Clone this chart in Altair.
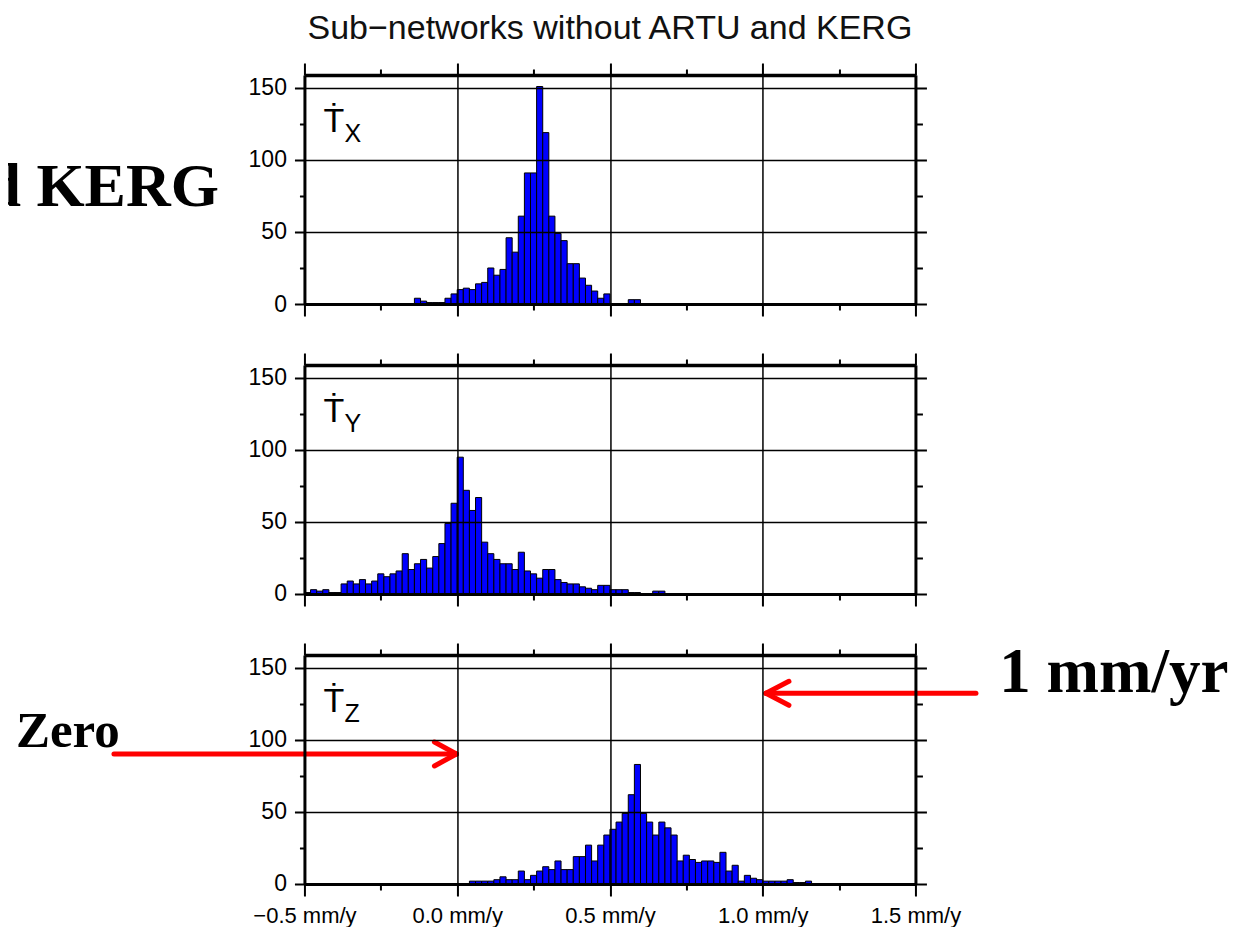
import altair as alt
import pandas as pd

# ---------------- data ----------------
BIN_START = -0.5
BIN_WIDTH = 0.02

counts_x = [
    0, 0, 0, 0, 0, 0, 0, 0, 0, 0,
    0, 0, 0, 0, 0, 0, 0, 0, 4, 2,
    1, 1, 1, 4, 7, 10, 11, 10, 14, 15,
    25, 20, 24, 46, 36, 61, 91, 91, 151, 119,
    61, 49, 44, 28, 28, 18, 13, 9, 4, 7,
    0, 0, 0, 3, 3, 0, 0, 0, 0, 0,
    0, 0, 0, 0, 0, 0, 0, 0, 0, 0,
    0, 0, 0, 0, 0, 0, 0, 0, 0, 0,
    0, 0, 0, 0, 0, 0, 0, 0, 0, 0,
    0, 0, 0, 0, 0, 0, 0, 0, 0, 0,
]
counts_y = [
    1, 3, 2, 3, 1, 1, 7, 9, 7, 10,
    7, 9, 14, 12, 14, 16, 28, 17, 21, 24,
    18, 26, 35, 49, 63, 95, 72, 58, 67, 36,
    28, 24, 21, 21, 17, 29, 16, 14, 11, 17,
    17, 10, 8, 7, 7, 5, 4, 3, 6, 6,
    3, 3, 3, 1, 1, 0, 0, 2, 2, 0,
    0, 0, 0, 0, 0, 0, 0, 0, 0, 0,
    0, 0, 0, 0, 0, 0, 0, 0, 0, 0,
    0, 0, 0, 0, 0, 0, 0, 0, 0, 0,
    0, 0, 0, 0, 0, 0, 0, 0, 0, 0,
]
counts_z = [
    0, 0, 0, 0, 0, 0, 0, 0, 0, 0,
    0, 0, 0, 0, 0, 0, 0, 0, 0, 0,
    0, 0, 0, 0, 0, 0, 0, 2, 2, 2,
    2, 3, 5, 3, 3, 9, 3, 6, 9, 12,
    10, 16, 10, 10, 19, 19, 27, 16, 27, 34,
    38, 43, 49, 62, 83, 49, 43, 34, 43, 39,
    34, 16, 20, 17, 15, 16, 16, 15, 22, 9,
    13, 2, 6, 4, 3, 2, 2, 2, 2, 3,
    1, 1, 2, 0, 0, 0, 0, 0, 0, 0,
    0, 0, 0, 0, 0, 0, 0, 0, 0, 0,
]

component_names = ["X", "Y", "Z"]
component_symbol = "\u1e6a"  # T with dot above
title_text = "Sub\u2212networks without ARTU and KERG"
left_note = "d KERG"
zero_note = "Zero"
unit_note = "1 mm/yr"

x_domain = [-0.5, 1.5]
y_domain = [0, 159]
x_major = [-0.5, 0.0, 0.5, 1.0, 1.5]
x_minor = [-0.25, 0.25, 0.75, 1.25]
y_major = [0, 50, 100, 150]
y_minor = [25, 75, 125]

# ---------------- layout ----------------
W, H = 611, 229
SPACING = 61
SANS = "Liberation Sans"
SERIF = "Liberation Serif"
NOTE_SIZE_LEFT = 62
NOTE_RIGHT_EDGE = -85.5  # right edge of "d KERG", relative to the plot's left side
TITLE_SIZE = 34
TITLE_BASE = -36
RED = "#ff0000"


def hist_frame(counts):
    rows = []
    for k, c in enumerate(counts):
        if c > 0:
            x0 = round(BIN_START + k * BIN_WIDTH, 4)
            rows.append({"x0": x0, "x1": round(x0 + BIN_WIDTH, 4), "count": c})
    return pd.DataFrame(rows)


def x_axis(orient, values, major, labels=False):
    kw = dict(
        orient=orient, values=values, title=None,
        grid=bool(major and orient == "bottom"),
        gridColor="black", gridWidth=1.5, gridOpacity=1,
        tickSize=12 if major else 6, tickWidth=2, tickColor="black",
        domain=major, domainColor="black",
        domainWidth=3.5 if orient == "top" else 3,
        labels=labels, zindex=1,
    )
    if labels:
        kw.update(
            labelExpr="format(datum.value, '.1f') + ' mm/y'",
            labelFont=SANS, labelFontSize=22, labelColor="black",
            labelPadding=10, labelFlush=False, labelOverlap=False, labelBound=False,
        )
    return alt.Axis(**kw)


def y_axis(orient, values, major, labels=False):
    kw = dict(
        orient=orient, values=values, title=None,
        grid=bool(major and orient == "left"),
        gridColor="black", gridWidth=1.5, gridOpacity=1,
        tickSize=(10 if orient == "left" else 11) if major else (5 if orient == "left" else 7),
        tickWidth=2, tickColor="black",
        domain=major, domainColor="black", domainWidth=3,
        labels=labels, zindex=1,
    )
    if labels:
        kw.update(labelFont=SANS, labelFontSize=23, labelColor="black",
                  labelPadding=8, labelOverlap=False)
    return alt.Axis(**kw)


def text_layer(txt, x, y, font, size, weight="normal", align="left", color="black"):
    return alt.Chart(pd.DataFrame({"t": [txt]})).mark_text(
        align=align, baseline="alphabetic", font=font, fontSize=size,
        fontWeight=weight, color=color,
    ).encode(x=alt.value(x), y=alt.value(y), text="t:N")


def seg(x1, y1, x2, y2):
    return alt.Chart(pd.DataFrame({"a": [0]})).mark_rule(
        color=RED, strokeWidth=5, strokeCap="round"
    ).encode(x=alt.value(x1), y=alt.value(y1), x2=alt.value(x2), y2=alt.value(y2))


def arrow(x_from, x_tip, y, wing_dx, wing_dy):
    # wing_dx points back from the tip toward the tail
    return [
        seg(x_from, y, x_tip, y),
        seg(x_tip, y, x_tip + wing_dx, y - wing_dy),
        seg(x_tip, y, x_tip + wing_dx, y + wing_dy),
    ]


def panel(counts, comp, bottom, extras):
    df = hist_frame(counts)
    xs = alt.Scale(domain=x_domain, nice=False, zero=False, padding=0)
    ys = alt.Scale(domain=y_domain, nice=False, zero=False, padding=0)

    bars = alt.Chart(df).mark_rect(
        color="#0000ff", stroke="black", strokeWidth=1, opacity=1
    ).encode(
        x=alt.X("x0:Q", scale=xs, axis=x_axis("bottom", x_major, True, labels=bottom)),
        x2="x1:Q",
        y=alt.Y("count:Q", scale=ys, axis=y_axis("left", y_major, True, labels=True)),
        y2=alt.datum(0),
    )
    ghost = alt.Chart(df).mark_point(opacity=0, size=1)
    g1 = ghost.encode(
        x=alt.X("x0:Q", scale=xs, axis=x_axis("bottom", x_minor, False)),
        y=alt.Y("count:Q", scale=ys, axis=y_axis("left", y_minor, False)),
    )
    g2 = ghost.encode(
        x=alt.X("x0:Q", scale=xs, axis=x_axis("top", x_major, True)),
        y=alt.Y("count:Q", scale=ys, axis=y_axis("right", y_major, True)),
    )
    g3 = ghost.encode(
        x=alt.X("x0:Q", scale=xs, axis=x_axis("top", x_minor, False)),
        y=alt.Y("count:Q", scale=ys, axis=y_axis("right", y_minor, False)),
    )
    sym = text_layer(component_symbol, 19, 57, SANS, 34)
    sub = text_layer(comp, 40, 67, SANS, 25)
    layers = [bars, g1, g2, g3, sym, sub] + extras
    return alt.layer(*layers).resolve_axis(x="independent", y="independent").properties(width=W, height=H)


extras_top = [
    text_layer(title_text, W / 2, TITLE_BASE, SANS, TITLE_SIZE, align="center", color="#111111"),
    text_layer(left_note, NOTE_RIGHT_EDGE, 131, SERIF, NOTE_SIZE_LEFT, weight="bold", align="right"),
]
extras_bottom = [
    text_layer(zero_note, -288.5, 91.7, SERIF, 51, weight="bold"),
    text_layer(unit_note, 694.8, 36.7, SERIF, 63, weight="bold"),
] + arrow(-190.5, 152, 99, -22, 12) + arrow(671.5, 461.5, 38.3, 23, 12)

p1 = panel(counts_x, component_names[0], False, extras_top)
p2 = panel(counts_y, component_names[1], False, [])
p3 = panel(counts_z, component_names[2], True, extras_bottom)

# leftmost content is the cropped "d KERG"; topmost is the title
note_width = 3.751 * NOTE_SIZE_LEFT
pad_left = 303.5 - 8 - (note_width - NOTE_RIGHT_EDGE)
pad_top = 75 - 8 + (TITLE_BASE - round(0.8 * TITLE_SIZE))

chart = alt.vconcat(p1, p2, p3, spacing=SPACING, bounds="flush").properties(
    padding={"left": pad_left, "top": pad_top, "right": 0, "bottom": 0}
).configure_view(strokeWidth=0)

chart.save("out.html", embed_options={"renderer": "svg", "actions": False})
